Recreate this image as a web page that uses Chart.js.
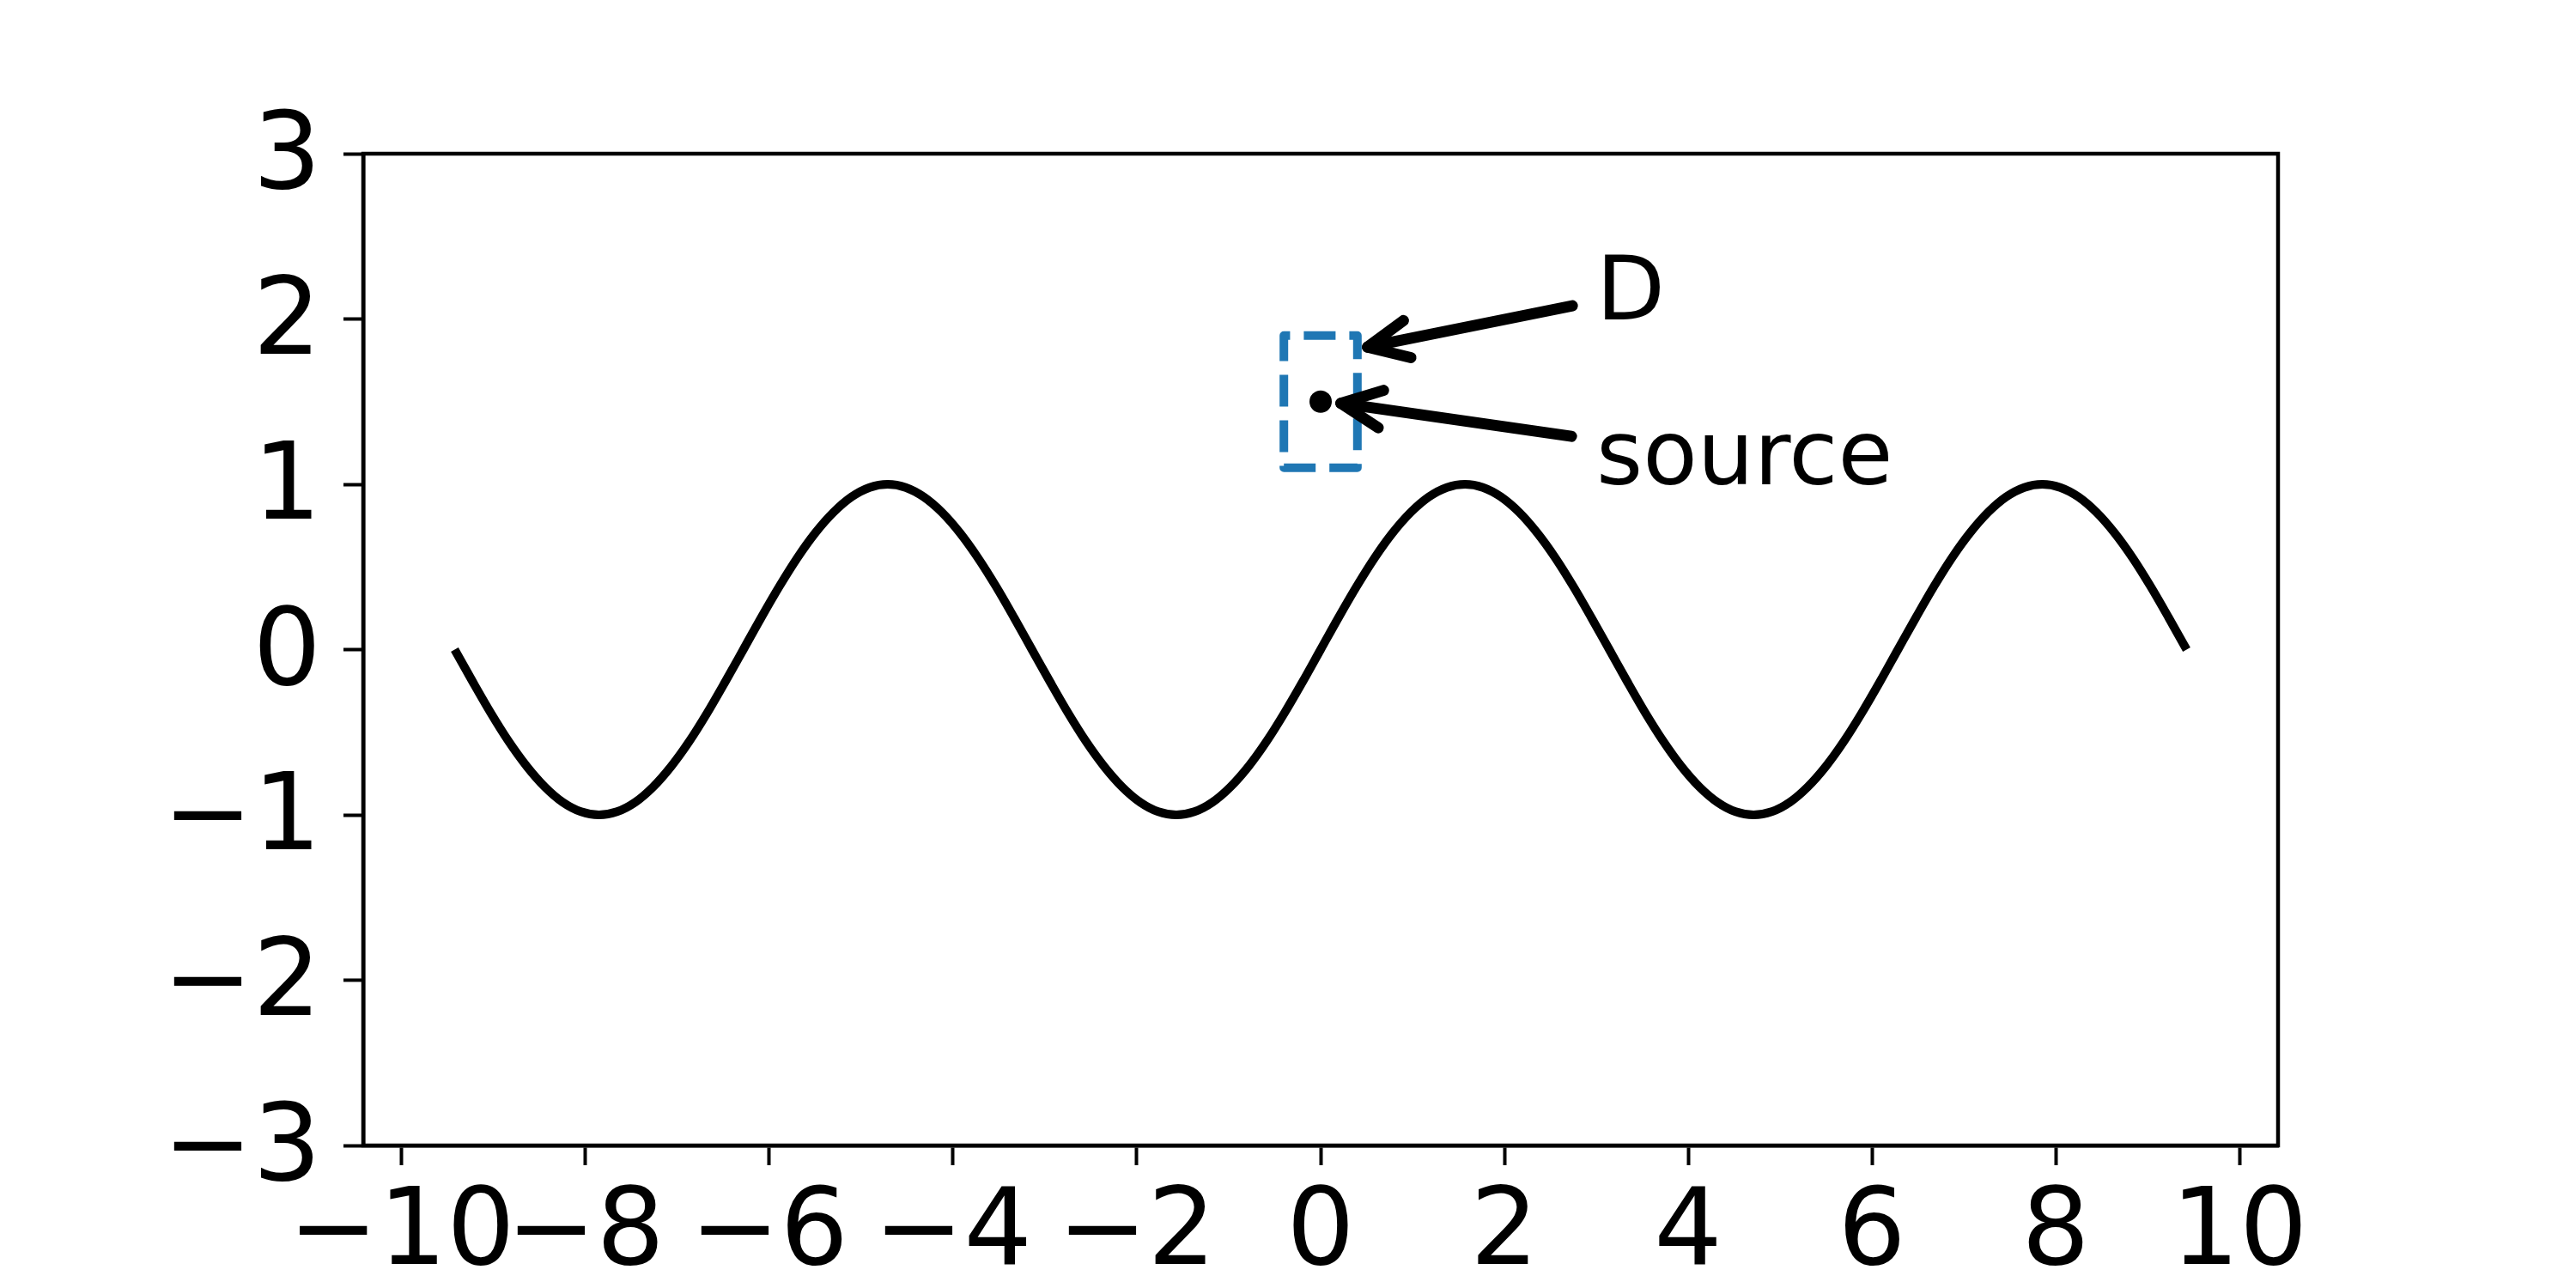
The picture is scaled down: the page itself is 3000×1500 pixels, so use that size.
<!DOCTYPE html>
<html>
<head>
<meta charset="utf-8">
<script src="https://cdn.jsdelivr.net/npm/chart.js@4.4.1/dist/chart.umd.min.js"></script>
<style>
  html, body { margin: 0; padding: 0; background: #ffffff; }
  #wrap { width: 3000px; height: 1500px; }
</style>
</head>
<body>
<div id="wrap"><canvas id="c" width="3000" height="1500"></canvas></div>
<script>
// ---- data ----
const xValues = [
  -9.425, -9.228, -9.032, -8.836, -8.639, -8.443, -8.247, -8.050,
  -7.854, -7.658, -7.461, -7.265, -7.069, -6.872, -6.676, -6.480,
  -6.283, -6.087, -5.890, -5.694, -5.498, -5.301, -5.105, -4.909,
  -4.712, -4.516, -4.320, -4.123, -3.927, -3.731, -3.534, -3.338,
  -3.142, -2.945, -2.749, -2.553, -2.356, -2.160, -1.963, -1.767,
  -1.571, -1.374, -1.178, -0.982, -0.785, -0.589, -0.393, -0.196,
  0, 0.196, 0.393, 0.589, 0.785, 0.982, 1.178, 1.374,
  1.571, 1.767, 1.963, 2.160, 2.356, 2.553, 2.749, 2.945,
  3.142, 3.338, 3.534, 3.731, 3.927, 4.123, 4.320, 4.516,
  4.712, 4.909, 5.105, 5.301, 5.498, 5.694, 5.890, 6.087,
  6.283, 6.480, 6.676, 6.872, 7.069, 7.265, 7.461, 7.658,
  7.854, 8.050, 8.247, 8.443, 8.639, 8.836, 9.032, 9.228, 9.425];
const yValues = [
  0, -0.195, -0.383, -0.556, -0.707, -0.831, -0.924, -0.981,
  -1, -0.981, -0.924, -0.831, -0.707, -0.556, -0.383, -0.195,
  0, 0.195, 0.383, 0.556, 0.707, 0.831, 0.924, 0.981,
  1, 0.981, 0.924, 0.831, 0.707, 0.556, 0.383, 0.195,
  0, -0.195, -0.383, -0.556, -0.707, -0.831, -0.924, -0.981,
  -1, -0.981, -0.924, -0.831, -0.707, -0.556, -0.383, -0.195,
  0, 0.195, 0.383, 0.556, 0.707, 0.831, 0.924, 0.981,
  1, 0.981, 0.924, 0.831, 0.707, 0.556, 0.383, 0.195,
  0, -0.195, -0.383, -0.556, -0.707, -0.831, -0.924, -0.981,
  -1, -0.981, -0.924, -0.831, -0.707, -0.556, -0.383, -0.195,
  0, 0.195, 0.383, 0.556, 0.707, 0.831, 0.924, 0.981,
  1, 0.981, 0.924, 0.831, 0.707, 0.556, 0.383, 0.195, 0];

const sourcePointX = [0];
const sourcePointY = [1.5];

const boxXRange = [-0.4, 0.4];
const boxYRange = [1.1, 1.9];

const annotationLabels = ['D', 'source'];
const annotationTextX = [3, 3];
const annotationTextY = [2, 1];
const arrowTailX = [2.74, 2.73];
const arrowTailY = [2.08, 1.29];
const arrowTipX = [0.51, 0.22];
const arrowTipY = [1.83, 1.49];

const xTickValues = [-10, -8, -6, -4, -2, 0, 2, 4, 6, 8, 10];
const xTickLabels = ['\u221210', '\u22128', '\u22126', '\u22124', '\u22122', '0', '2', '4', '6', '8', '10'];
const yTickValues = [-3, -2, -1, 0, 1, 2, 3];
const yTickLabels = ['\u22123', '\u22122', '\u22121', '0', '1', '2', '3'];

// ---- rendering ----
const FONT = "'DejaVu Sans', 'Liberation Sans', sans-serif";

const annotationPlugin = {
  id: 'annotations',
  afterDatasetsDraw(chart) {
    const ctx = chart.ctx;
    const xs = chart.scales.x, ys = chart.scales.y;
    const ca = chart.chartArea;
    ctx.save();
    // axes frame
    ctx.strokeStyle = '#000';
    ctx.lineWidth = 4.5;
    ctx.setLineDash([]);
    ctx.strokeRect(ca.left, ca.top, ca.right - ca.left, ca.bottom - ca.top);

    // dashed box
    const bx0 = xs.getPixelForValue(boxXRange[0]), bx1 = xs.getPixelForValue(boxXRange[1]);
    const by0 = ys.getPixelForValue(boxYRange[0]), by1 = ys.getPixelForValue(boxYRange[1]);
    ctx.strokeStyle = '#1f77b4';
    ctx.lineWidth = 10;
    ctx.lineCap = 'butt';
    ctx.lineJoin = 'round';
    ctx.setLineDash([37, 16]);
    ctx.beginPath();
    ctx.moveTo(bx0, by0);
    ctx.lineTo(bx1, by0);
    ctx.lineTo(bx1, by1);
    ctx.lineTo(bx0, by1);
    ctx.closePath();
    ctx.stroke();
    ctx.setLineDash([]);

    // arrows
    ctx.strokeStyle = '#000';
    ctx.lineWidth = 13;
    ctx.lineCap = 'round';
    ctx.lineJoin = 'round';
    for (let i = 0; i < arrowTipX.length; i++) {
      const tx = xs.getPixelForValue(arrowTipX[i]), ty = ys.getPixelForValue(arrowTipY[i]);
      const sx = xs.getPixelForValue(arrowTailX[i]), sy = ys.getPixelForValue(arrowTailY[i]);
      const ang = Math.atan2(sy - ty, sx - tx);
      const hl = 52, ha = 25 * Math.PI / 180;
      ctx.beginPath();
      ctx.moveTo(sx, sy);
      ctx.lineTo(tx, ty);
      ctx.stroke();
      ctx.beginPath();
      ctx.moveTo(tx + hl * Math.cos(ang - ha), ty + hl * Math.sin(ang - ha));
      ctx.lineTo(tx, ty);
      ctx.lineTo(tx + hl * Math.cos(ang + ha), ty + hl * Math.sin(ang + ha));
      ctx.stroke();
    }

    // texts
    ctx.fillStyle = '#000';
    ctx.font = '104px ' + FONT;
    ctx.textAlign = 'left';
    ctx.textBaseline = 'alphabetic';
    for (let i = 0; i < annotationLabels.length; i++) {
      ctx.fillText(annotationLabels[i], xs.getPixelForValue(annotationTextX[i]), ys.getPixelForValue(annotationTextY[i]));
    }
    ctx.restore();
  }
};

const curveData = xValues.map((x, i) => ({ x: x, y: yValues[i] }));
const pointData = sourcePointX.map((x, i) => ({ x: x, y: sourcePointY[i] }));

new Chart(document.getElementById('c'), {
  type: 'scatter',
  data: {
    datasets: [
      {
        data: curveData,
        showLine: true,
        borderColor: '#000000',
        borderWidth: 10,
        pointRadius: 0,
        cubicInterpolationMode: 'monotone',
        borderJoinStyle: 'round',
        borderCapStyle: 'butt',
        fill: false
      },
      {
        data: pointData,
        pointRadius: 13,
        pointBackgroundColor: '#000000',
        pointBorderWidth: 0,
        showLine: false
      }
    ]
  },
  options: {
    responsive: false,
    devicePixelRatio: 1,
    animation: false,
    layout: { padding: { top: 179, right: 347, left: 0, bottom: 0 } },
    plugins: { legend: { display: false }, tooltip: { enabled: false } },
    scales: {
      x: {
        type: 'linear',
        position: 'bottom',
        min: -10.42,
        max: 10.42,
        afterFit(scale) { scale.height = 166; },
        afterBuildTicks(scale) { scale.ticks = xTickValues.map(v => ({ value: v })); },
        grid: { drawOnChartArea: false, drawTicks: true, tickLength: 23, tickWidth: 4, tickColor: '#000' },
        border: { display: true, color: '#000', width: 4.5 },
        ticks: {
          autoSkip: false,
          maxRotation: 0,
          minRotation: 0,
          padding: 8,
          color: '#000',
          font: { family: FONT, size: 125 },
          callback(v) { const k = xTickValues.indexOf(v); return k >= 0 ? xTickLabels[k] : ''; }
        }
      },
      y: {
        type: 'linear',
        position: 'left',
        min: -3,
        max: 3,
        afterFit(scale) { scale.width = 423; },
        afterBuildTicks(scale) { scale.ticks = yTickValues.map(v => ({ value: v })); },
        grid: { drawOnChartArea: false, drawTicks: true, tickLength: 23, tickWidth: 4, tickColor: '#000' },
        border: { display: true, color: '#000', width: 4.5 },
        ticks: {
          autoSkip: false,
          padding: 26,
          labelOffset: 8,
          color: '#000',
          font: { family: FONT, size: 125 },
          callback(v) { const k = yTickValues.indexOf(v); return k >= 0 ? yTickLabels[k] : ''; }
        }
      }
    }
  },
  plugins: [annotationPlugin]
});
</script>
</body>
</html>
